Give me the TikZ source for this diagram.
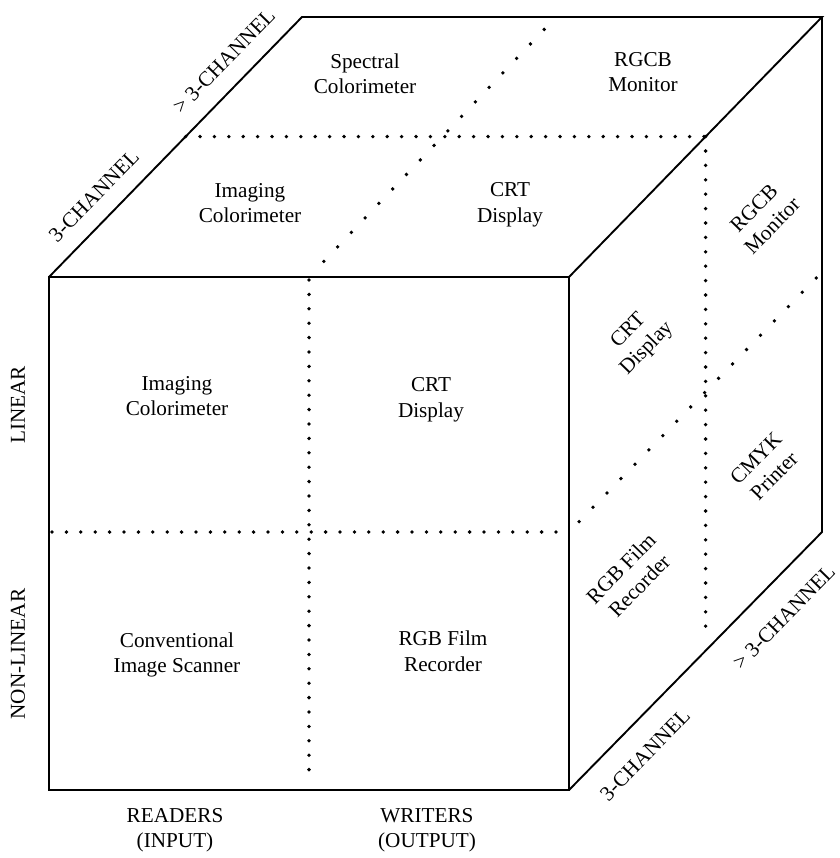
\documentclass[tikz,border=0pt]{standalone}
\usepackage{fontspec}
\setmainfont{Liberation Serif}
\usetikzlibrary{calc}
\begin{document}
\begin{tikzpicture}[x=1pt,y=-1pt,
  edge/.style={line width=1.9pt, line join=miter},
  dots/.style={line width=3.8pt, line cap=round, dash pattern=on 0pt off 14.4pt},
  ddots/.style={line width=3.8pt, line cap=round, dash pattern=on 0pt off 20pt},
  lbl/.style={font=\fontsize{21.2}{25.5}\selectfont, align=center, inner sep=0pt},
  rlbl/.style={lbl, rotate=45.8}]
\useasboundingbox (0,0) rectangle (839,858);
% corners
\coordinate (FTL) at (49,277);
\coordinate (FTR) at (569,277);
\coordinate (FBL) at (49,790);
\coordinate (FBR) at (569,790);
\coordinate (BTL) at (302,17);
\coordinate (BTR) at (822,17);
\coordinate (BBR) at (822,532);
% division points
\coordinate (FTM) at ($(FTL)!0.5!(FTR)$);
\coordinate (FBM) at ($(FBL)!0.5!(FBR)$);
\coordinate (FLM) at (49,532);
\coordinate (FRM) at (569,532);
\coordinate (BTM) at (556,17);
\coordinate (BRM) at (822,272);
\coordinate (TLM) at ($(FTL)!0.54!(BTL)$);
\coordinate (TRM) at ($(FTR)!0.54!(BTR)$);
\coordinate (BOM) at ($(FBR)!0.54!(BBR)$);
% dotted dividers
\draw[dots] ($(FTM)+(0,3)$) -- ($(FBM)+(0,-10)$);
\draw[dots] ($(FLM)+(3,0)$) -- ($(FRM)+(-10,0)$);
\draw[dots] (TLM) -- (TRM);
\draw[ddots] ($(FTM)!0.06!(BTM)$) -- (BTM);
\draw[dots] (TRM) -- ($(BOM)+(0,-12)$);
\draw[ddots] ($(FRM)!0.04!(BRM)$) -- (BRM);
% outline
\draw[edge] (FTL) rectangle (FBR);
\draw[edge] (FTL) -- (BTL) -- (BTR) -- (FTR);
\draw[edge] (BTR) -- (BBR) -- (FBR);
% front face
\node[lbl] (fic) at (177,396) {Imaging\\Colorimeter};
\node[lbl] (fcrt) at (431,400) {CRT\\Display};
\node[lbl] (fcis) at (177,655) {Conventional\\Image Scanner};
\node[lbl] (frgb) at (443,651) {RGB Film\\Recorder};
% top face
\node[lbl] (tsc) at (365,74) {Spectral\\Colorimeter};
\node[lbl] (trgcb) at (643,72) {RGCB\\Monitor};
\node[lbl] (tic) at (250,203) {Imaging\\Colorimeter};
\node[lbl] (tcrt) at (510,205) {CRT\\Display};
% right face
\node[rlbl] (rrgcb) at (763,217) {RGCB\\Monitor};
\node[rlbl] (rcrt) at (638,340) {CRT\\Display};
\node[rlbl] (rcmyk) at (765,467) {CMYK\\Printer};
\node[rlbl] (rrgb) at (630,577) {RGB Film\\Recorder};
% axis labels
\node[rlbl] (a3l) at (94,196) {3-CHANNEL};
\node[rlbl] (a4l) at (224,61) {> 3-CHANNEL};
\node[rlbl] (a3r) at (645,755) {3-CHANNEL};
\node[rlbl] (a4r) at (784,617) {> 3-CHANNEL};
\node[lbl, rotate=90] (lin) at (18,405) {LINEAR};
\node[lbl, rotate=90] (nlin) at (18,654) {NON-LINEAR};
\node[lbl] (rd) at (175,830) {READERS\\(INPUT)};
\node[lbl] (wr) at (427,830) {WRITERS\\(OUTPUT)};
\end{tikzpicture}
\end{document}
